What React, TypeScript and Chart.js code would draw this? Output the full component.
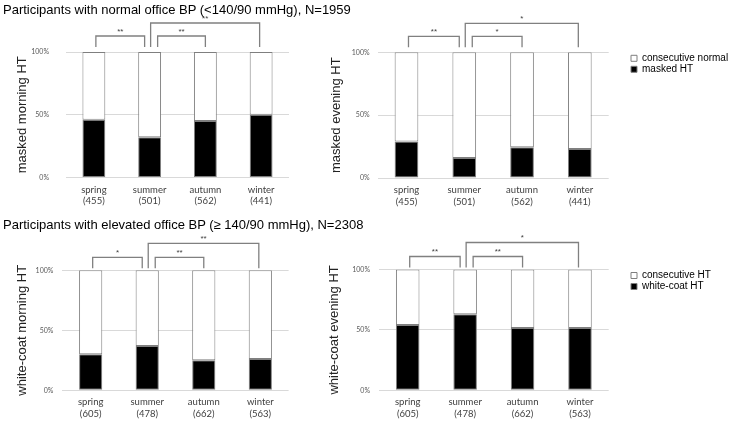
import React, { useEffect, useRef } from 'react';
import { Chart, registerables } from 'chart.js';

Chart.register(...registerables);
Chart.defaults.font.family = "'Liberation Sans', Arial, sans-serif";

// ---------- data ----------
const seasons = ['spring', 'summer', 'autumn', 'winter'];
const nNormalBP = ['(455)', '(501)', '(562)', '(441)'];
const nElevatedBP = ['(605)', '(478)', '(662)', '(563)'];

const maskedMorningHT = [46, 32, 45, 50];
const consecNormalMorning = [54, 68, 55, 50];
const maskedEveningHT = [29, 16, 24.5, 23];
const consecNormalEvening = [71, 84, 75.5, 77];
const whiteCoatMorningHT = [30, 37, 25, 26];
const consecHTMorning = [70, 63, 75, 74];
const whiteCoatEveningHT = [54, 63, 51.5, 51.5];
const consecHTEvening = [46, 37, 48.5, 48.5];

const yTickValues = [0, 50, 100];

// significance brackets: [from category, to category, label]
const sigMaskedMorning = [[0, 1, '**'], [1, 2, '**'], [1, 3, '**']];
const sigMaskedEvening = [[0, 1, '**'], [1, 2, '*'], [1, 3, '*']];
const sigWhiteCoatMorning = [[0, 1, '*'], [1, 2, '**'], [1, 3, '**']];
const sigWhiteCoatEvening = [[0, 1, '**'], [1, 2, '**'], [1, 3, '*']];

const titleNormal = 'Participants with normal office BP (<140/90 mmHg), N=1959';
const titleElevated = 'Participants with elevated office BP (\u2265 140/90 mmHg), N=2308';

// ---------- plugins ----------
const legOffsets: Record<string, [number, number]> = {
  '0-1': [2, -5],
  '1-2': [8, 0],
  '1-3': [1, -1.5],
};

const bracketPlugin = {
  id: 'sigBrackets',
  afterDraw(chart: any, _args: any, opts: any) {
    if (!opts || !opts.pairs) return;
    const { ctx, chartArea } = chart;
    const xs = chart.scales.x;
    const top = chartArea.top;
    ctx.save();
    ctx.strokeStyle = '#808080';
    ctx.lineWidth = 1.3;
    ctx.fillStyle = '#404040';
    ctx.font = "8px 'Liberation Sans', Arial, sans-serif";
    ctx.textAlign = 'center';
    ctx.textBaseline = 'alphabetic';
    for (const [a, b, label] of opts.pairs) {
      const off = legOffsets[`${a}-${b}`] || [0, 0];
      const x1 = xs.getPixelForValue(a) + off[0];
      const x2 = xs.getPixelForValue(b) + off[1];
      const yBottom = top - opts.leg;
      const yLine = top - (b - a > 1 ? opts.high : opts.low);
      ctx.beginPath();
      ctx.moveTo(x1, yBottom);
      ctx.lineTo(x1, yLine);
      ctx.lineTo(x2, yLine);
      ctx.lineTo(x2, yBottom);
      ctx.stroke();
      ctx.fillText(label, (x1 + x2) / 2, yLine - 2.5);
    }
    ctx.restore();
  },
};

const legendPlace = {
  id: 'legendPlace',
  afterLayout(chart: any, _args: any, opts: any) {
    const lg = chart.legend;
    if (!lg || !opts || opts.x == null) return;
    const w = lg.width;
    const h = lg.height;
    lg.left = opts.x;
    lg.right = opts.x + w;
    lg.top = chart.chartArea.top;
    lg.bottom = lg.top + h;
  },
};

// ---------- panels ----------
type PanelCfg = {
  left: number; top: number; w: number; h: number;
  pad: { top: number; right: number; bottom: number; left: number };
  yW: number; yTitle: string; titlePad: number; tickPad: number;
  counts: string[];
  lower: number[]; upper: number[];
  lowerLabel: string; upperLabel: string;
  pairs: any[];
  levels: { leg: number; low: number; high: number };
  legendX?: number;
};

const panels: PanelCfg[] = [
  {
    left: 0, top: 0, w: 300, h: 215,
    pad: { top: 52, right: 11, bottom: 5.5, left: 0 },
    yW: 66, yTitle: 'masked morning HT', titlePad: 15, tickPad: 17,
    counts: nNormalBP, lower: maskedMorningHT, upper: consecNormalMorning,
    lowerLabel: 'masked HT', upperLabel: 'consecutive normal',
    pairs: sigMaskedMorning, levels: { leg: 5, low: 16, high: 29 },
  },
  {
    left: 300, top: 0, w: 429, h: 215,
    pad: { top: 52.3, right: 120.3, bottom: 5, left: 0 },
    yW: 77.6, yTitle: 'masked evening HT', titlePad: 29, tickPad: 8,
    counts: nNormalBP, lower: maskedEveningHT, upper: consecNormalEvening,
    lowerLabel: 'masked HT', upperLabel: 'consecutive normal',
    pairs: sigMaskedEvening, levels: { leg: 5, low: 16, high: 29 },
    legendX: 330,
  },
  {
    left: 0, top: 215, w: 300, h: 208,
    pad: { top: 55.3, right: 11.4, bottom: 0.7, left: 0 },
    yW: 62.4, yTitle: 'white-coat morning HT', titlePad: 15, tickPad: 9,
    counts: nElevatedBP, lower: whiteCoatMorningHT, upper: consecHTMorning,
    lowerLabel: 'white-coat HT', upperLabel: 'consecutive HT',
    pairs: sigWhiteCoatMorning, levels: { leg: 2, low: 13, high: 27 },
  },
  {
    left: 300, top: 215, w: 429, h: 208,
    pad: { top: 54.5, right: 120.3, bottom: 0.7, left: 0 },
    yW: 79, yTitle: 'white-coat evening HT', titlePad: 27, tickPad: 9,
    counts: nElevatedBP, lower: whiteCoatEveningHT, upper: consecHTEvening,
    lowerLabel: 'white-coat HT', upperLabel: 'consecutive HT',
    pairs: sigWhiteCoatEvening, levels: { leg: 2, low: 13, high: 27 },
    legendX: 330,
  },
];

function Panel({ cfg }: { cfg: PanelCfg }) {
  const ref = useRef<HTMLCanvasElement>(null);
  useEffect(() => {
    const labels = seasons.map((s, i) => [s, cfg.counts[i]]);
    const chart = new Chart(ref.current as HTMLCanvasElement, {
      type: 'bar',
      data: {
        labels,
        datasets: [
          {
            label: cfg.lowerLabel,
            data: cfg.lower,
            backgroundColor: '#000000',
            borderColor: '#7f7f7f',
            borderWidth: 1,
            borderSkipped: false,
          },
          {
            label: cfg.upperLabel,
            data: cfg.upper,
            backgroundColor: '#ffffff',
            borderColor: '#7f7f7f',
            borderWidth: 1,
            borderSkipped: false,
          },
        ],
      },
      options: {
        responsive: false,
        animation: false,
        devicePixelRatio: 1,
        layout: { padding: cfg.pad },
        datasets: { bar: { categoryPercentage: 1, barPercentage: 0.41 } },
        scales: {
          x: {
            stacked: true,
            grid: { display: false, drawTicks: false },
            border: { display: false },
            ticks: {
              padding: 6,
              color: '#404040',
              font: { family: 'Lato, sans-serif', size: 9.5, lineHeight: 1.25 },
              maxRotation: 0,
              autoSkip: false,
            },
            afterFit: (s: any) => { s.height = 32; },
          },
          y: {
            stacked: true,
            min: 0,
            max: 100,
            afterBuildTicks: (s: any) => { s.ticks = yTickValues.map((v) => ({ value: v })); },
            grid: { color: '#d9d9d9', lineWidth: 1, drawTicks: false },
            border: { display: false },
            ticks: {
              padding: cfg.tickPad,
              color: '#595959',
              font: { family: 'Lato, sans-serif', size: 7 },
              callback: (v: any) => `${v}%`,
            },
            title: {
              display: true,
              text: cfg.yTitle,
              color: '#222222',
              font: { size: 13 },
              padding: { top: cfg.titlePad, bottom: 0 },
            },
            afterFit: (s: any) => { s.width = cfg.yW; },
          },
        },
        plugins: {
          legend: {
            display: cfg.legendX != null,
            position: 'chartArea',
            align: 'start',
            reverse: true,
            labels: {
              boxWidth: 6,
              boxHeight: 6,
              padding: 1,
              color: '#000000',
              font: { size: 10 },
            },
          },
          tooltip: { enabled: false },
          sigBrackets: { pairs: cfg.pairs, ...cfg.levels },
          legendPlace: { x: cfg.legendX },
        } as any,
      },
      plugins: [bracketPlugin, legendPlace],
    } as any);
    return () => chart.destroy();
  }, [cfg]);
  return (
    <canvas
      ref={ref}
      width={cfg.w}
      height={cfg.h}
      style={{ position: 'absolute', left: cfg.left, top: cfg.top }}
    />
  );
}

const titleStyle: React.CSSProperties = {
  position: 'absolute',
  left: 3,
  fontFamily: "'Liberation Sans', Arial, sans-serif",
  fontSize: 13,
  lineHeight: '16px',
  color: '#000',
  whiteSpace: 'nowrap',
  zIndex: 2,
};

export default function App() {
  return (
    <div style={{ position: 'absolute', left: 0, top: 0, width: 729, height: 422, background: '#fff', overflow: 'hidden' }}>
      <div style={{ ...titleStyle, top: 2 }}>{titleNormal}</div>
      <div style={{ ...titleStyle, top: 217 }}>{titleElevated}</div>
      {panels.map((p, i) => (
        <Panel key={i} cfg={p} />
      ))}
    </div>
  );
}
